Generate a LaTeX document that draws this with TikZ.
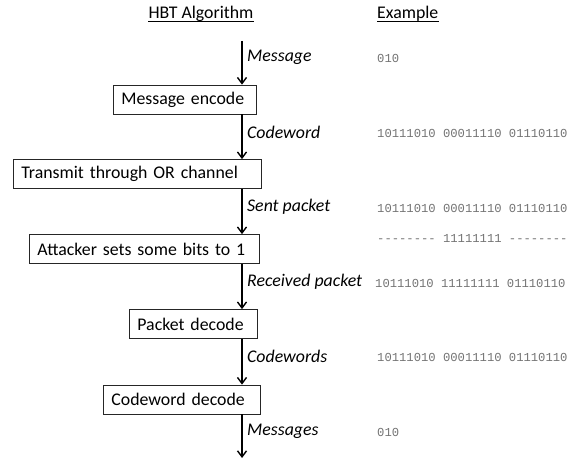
\documentclass[tikz,border=0pt]{standalone}
\usepackage{fontspec}
\setmainfont{Carlito}
\newfontfamily\bitsfont{Liberation Mono}
\usetikzlibrary{arrows.meta}
\definecolor{bitgray}{RGB}{115,115,115}
\tikzset{
  boxnode/.style={draw=black!85, line width=0.8pt, inner xsep=8pt, inner ysep=0pt,
    minimum height=29pt, align=left, anchor=west, font=\fontsize{17.8}{20}\selectfont},
  flow/.style={line width=1.4pt, -{Straight Barb[length=6pt,width=9pt,line width=1.4pt]}},
  lbl/.style={anchor=west, inner sep=0pt, font=\fontsize{17.8}{20}\selectfont\itshape},
  bits/.style={anchor=west, inner sep=0pt, text=bitgray, font=\bitsfont\fontsize{12.2}{14}\selectfont},
  head/.style={anchor=base, inner sep=0pt, font=\fontsize{17.8}{20}\selectfont},
}
\begin{document}
\begin{tikzpicture}[x=1pt,y=-1pt]
\useasboundingbox (0,0) rectangle (579,462);
% headings
\node[head] (hbt) at (201,19) {HBT Algorithm};
\node[head, anchor=base west] (ex) at (377,19) {Example};
\draw[line width=0.9pt] ([yshift=-2.4pt]hbt.base west) -- ([yshift=-2.4pt]hbt.base east);
\draw[line width=0.9pt] ([yshift=-2.4pt]ex.base west) -- ([yshift=-2.4pt]ex.base east);
% boxes
\node[boxnode, text width=127pt] (b1) at (113,99.5) {Message encode};
\node[boxnode, text width=232pt] (b2) at (13,174) {Transmit through OR channel};
\node[boxnode, text width=214pt] (b3) at (29,249) {Attacker sets some bits to 1};
\node[boxnode, text width=112pt] (b4) at (129,324) {Packet decode};
\node[boxnode, text width=141pt] (b5) at (103,399.5) {Codeword decode};
% arrow axis
\coordinate (ax) at (242,0);
\coordinate (start) at (242,41);
\coordinate (stop) at (242,458);
\draw[flow] (start) -- (b1.north -| ax);
\draw[flow] (b1.south -| ax) -- (b2.north -| ax);
\draw[flow] (b2.south -| ax) -- (b3.north -| ax);
\draw[flow] (b3.south -| ax) -- (b4.north -| ax);
\draw[flow] (b4.south -| ax) -- (b5.north -| ax);
\draw[flow] (b5.south -| ax) -- (stop);
% labels
\node[lbl] (l1) at (247,57) {Message};
\node[lbl] (l2) at (247,132) {Codeword};
\node[lbl] (l3) at (247,207) {Sent packet};
\node[lbl] (l4) at (247,282) {Received packet};
\node[lbl] (l5) at (247,356) {Codewords};
\node[lbl] (l6) at (247,431) {Messages};
% example bits
\node[bits] (e1) at (377,58) {010};
\node[bits] (e2) at (377,133) {10111010 00011110 01110110};
\node[bits] (e3) at (377,208) {10111010 00011110 01110110};
\node[bits] (e4) at (377,238) {-------- 11111111 --------};
\node[bits] (e5) at (375,283) {10111010 11111111 01110110};
\node[bits] (e6) at (377,357) {10111010 00011110 01110110};
\node[bits] (e7) at (377,432) {010};
\end{tikzpicture}
\end{document}
